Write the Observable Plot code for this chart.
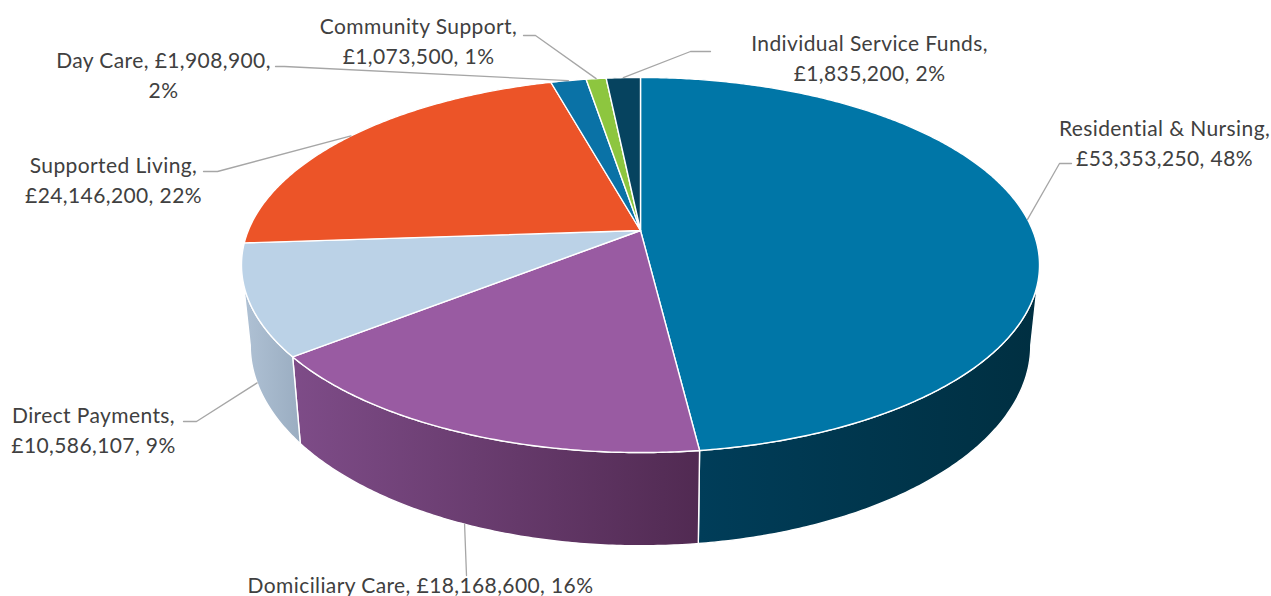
<!DOCTYPE html>
<html>
<head>
<meta charset="utf-8">
<script src="https://cdn.jsdelivr.net/npm/d3@7"></script>
<script src="https://cdn.jsdelivr.net/npm/@observablehq/plot@0.6"></script>
<style>
  html, body { margin: 0; padding: 0; background: #ffffff; }
  #chart svg { display: block; }
</style>
</head>
<body>
<div id="chart"></div>
<script>
// ---------- DATA ----------
const categories = [
  "Residential & Nursing",
  "Domiciliary Care",
  "Direct Payments",
  "Supported Living",
  "Day Care",
  "Community Support",
  "Individual Service Funds"
];
const amounts = [53353250, 18168600, 10586107, 24146200, 1908900, 1073500, 1835200];
const percentLabels = ["48%", "16%", "9%", "22%", "2%", "1%", "2%"];

// ---------- STYLE ----------
const topColors = ["#0076a7", "#995ba2", "#bbd2e7", "#ec5428", "#0a72a6", "#8dc63f", "#06435f"];
const sideGradients = {
  "Residential & Nursing": ["#003d59", "#002f41"],
  "Domiciliary Care": ["#7e4c88", "#512a52"],
  "Direct Payments": ["#b0c2d5", "#9aadc1"]
};

// ---------- LAYOUT (label placement, first-line baseline) ----------
// wrap: which ", " separator becomes a line break (0 after name, 1 after amount, -1 none)
const labelLayout = {
  "Residential & Nursing":    {at: [1164, 135], wrap: 0, elbow: [1059, 163], end: [1071, 163]},
  "Domiciliary Care":         {at: [420, 592],  wrap: -1, elbow: [466, 575], end: [466, 575]},
  "Direct Payments":          {at: [93, 422],   wrap: 0, elbow: [196, 421], end: [183, 421]},
  "Supported Living":         {at: [113, 172],  wrap: 0, elbow: [217, 171], end: [203, 171]},
  "Day Care":                 {at: [163, 67],   wrap: 1, elbow: [284, 66], end: [275, 66]},
  "Community Support":        {at: [418, 33],   wrap: 0, elbow: [535, 35], end: [523, 35]},
  "Individual Service Funds": {at: [869, 50],   wrap: 0, elbow: [690, 51], end: [710, 51]}
};

const W = 1271, H = 596;
const fontSize = 21;
const baselineShift = 0.71 * fontSize + 5;

// perspective geometry of the 3-D disc
const geo = {cx: 640, cy: 230, A: 392.2, B: 181.2, k: -0.184, cy2: 308, A2: 383.6, B2: 193.6};
function topPt(t) {
  const u = Math.sin(t), v = -Math.cos(t), w = 1 + geo.k * v;
  return [geo.cx + geo.A * u / w, geo.cy + geo.B * v / w];
}
function botPt(t) {
  const u = Math.sin(t), v = -Math.cos(t), w = 1 + geo.k * v;
  return [geo.cx + geo.A2 * u / w, geo.cy2 + geo.B2 * v / w];
}
// angular range of the visible outer wall (silhouette where v = -k)
const frontStart = Math.acos(geo.k);
const frontEnd = 2 * Math.PI - Math.acos(geo.k);

const total = d3.sum(amounts);
let acc = 0;
const slices = categories.map((c, i) => {
  const a0 = acc / total * 2 * Math.PI;
  acc += amounts[i];
  const a1 = acc / total * 2 * Math.PI;
  return {cat: c, i, a0, a1, mid: (a0 + a1) / 2};
});

function arc(f, a0, a1) {
  const n = Math.max(2, Math.ceil((a1 - a0) / (Math.PI / 360)));
  return d3.range(n + 1).map(j => f(a0 + (a1 - a0) * j / n));
}

// top faces
const topData = slices.map(s => {
  const pts = [[geo.cx, geo.cy], ...arc(topPt, s.a0, s.a1), [geo.cx, geo.cy]];
  return pts.map(([x, y]) => ({x, y, cat: s.cat}));
});

// side walls
const sideData = slices.map(s => {
  const a0 = Math.max(s.a0, frontStart), a1 = Math.min(s.a1, frontEnd);
  if (a1 <= a0) return null;
  const t = arc(topPt, a0, a1), b = arc(botPt, a0, a1).reverse();
  const pts = [...t, ...b, t[0]];
  return {cat: s.cat, pts: pts.map(([x, y]) => ({x, y, cat: s.cat}))};
}).filter(Boolean);

// leader lines and labels
const fmt = d3.format(",");
const leaderData = [];
const labelData = [];
slices.forEach(s => {
  const L = labelLayout[s.cat];
  const onFront = s.mid > frontStart && s.mid < frontEnd;
  const [ax, ay] = onFront ? botPt(s.mid) : topPt(s.mid);
  [[ax, ay], L.elbow, L.end].forEach(([x, y]) => leaderData.push({x, y, cat: s.cat}));
  const parts = [s.cat, "£" + fmt(amounts[s.i]), percentLabels[s.i]];
  let txt = "";
  parts.forEach((p, j) => {
    txt += p;
    if (j < parts.length - 1) txt += (j === L.wrap ? ",\n" : ", ");
  });
  labelData.push({x: L.at[0], y: L.at[1] - baselineShift, text: txt});
});

const marks = [];
sideData.forEach(s => {
  marks.push(Plot.line(s.pts, {
    x: "x", y: "y", fill: `url(#side-${categories.indexOf(s.cat)})`,
    stroke: "#ffffff", strokeWidth: 1.4, strokeLinejoin: "round", curve: "linear"
  }));
});
topData.forEach((pts, i) => {
  marks.push(Plot.line(pts, {
    x: "x", y: "y", fill: topColors[i],
    stroke: "#ffffff", strokeWidth: 1.4, strokeLinejoin: "round", curve: "linear"
  }));
});
marks.push(Plot.line(leaderData, {x: "x", y: "y", z: "cat", stroke: "#a6a6a6", strokeWidth: 1.3, curve: "linear"}));
marks.push(Plot.text(labelData, {
  x: "x", y: "y", text: "text", textAnchor: "middle", lineAnchor: "top",
  fontSize, lineHeight: 1.4, fill: "#404040", fontFamily: "Lato, 'Open Sans', sans-serif"
}));

const chart = Plot.plot({
  width: W, height: H,
  margin: 0,
  x: {domain: [0, W], range: [0, W], axis: null},
  y: {domain: [0, H], range: [0, H], axis: null},
  style: {background: "#ffffff", fontFamily: "Lato, 'Open Sans', sans-serif", overflow: "visible"},
  marks
});
chart.querySelectorAll("text").forEach(t => { t.style.letterSpacing = "0.4px"; });

// gradient definitions for the side walls
const ns = "http://www.w3.org/2000/svg";
const defs = document.createElementNS(ns, "defs");
categories.forEach((c, i) => {
  const g = sideGradients[c];
  if (!g) return;
  const lg = document.createElementNS(ns, "linearGradient");
  lg.setAttribute("id", `side-${i}`);
  lg.setAttribute("x1", "0"); lg.setAttribute("x2", "1");
  lg.setAttribute("y1", "0"); lg.setAttribute("y2", "0");
  g.forEach((col, j) => {
    const st = document.createElementNS(ns, "stop");
    st.setAttribute("offset", j === 0 ? "0" : "1");
    st.setAttribute("stop-color", col);
    lg.appendChild(st);
  });
  defs.appendChild(lg);
});
chart.insertBefore(defs, chart.firstChild);
document.getElementById("chart").appendChild(chart);
</script>
</body>
</html>
